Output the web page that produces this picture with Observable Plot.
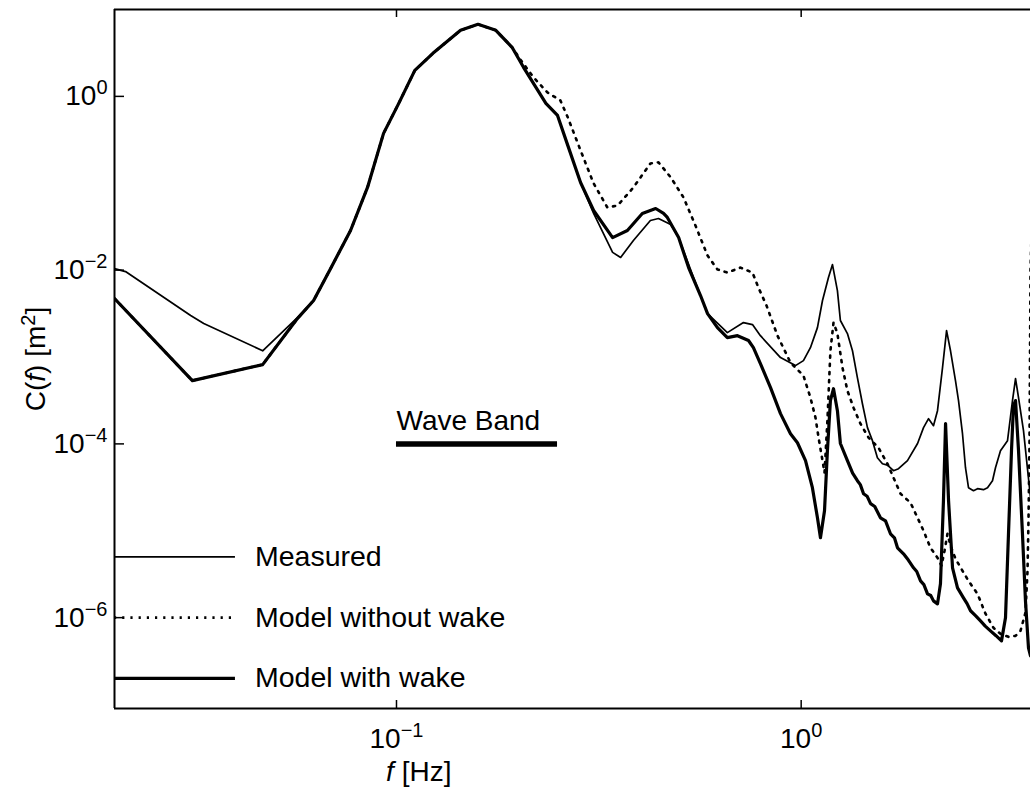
<!DOCTYPE html>
<html>
<head>
<meta charset="utf-8">
<script src="https://cdn.jsdelivr.net/npm/d3@7"></script>
<script src="https://cdn.jsdelivr.net/npm/@observablehq/plot@0.6"></script>
<style>
  html, body { margin: 0; padding: 0; background: #fff; }
  #chart { width: 1030px; height: 788px; overflow: hidden; }
  #chart svg { display: block; }
</style>
</head>
<body>
<div id="chart"></div>
<script>
// ---- data: [frequency f (Hz), spectral density C(f) (m^2)] ----
const measured = [
  [0.0201,0.0104],[0.0214,0.00963],[0.0310,0.00300],[0.0334,0.00243],[0.0467,0.00118],
  [0.0569,0.00284],[0.0624,0.00447],[0.0687,0.0104],[0.0770,0.0286],[0.0848,0.0895],
  [0.0929,0.375],[0.101,0.809],[0.111,1.99],[0.123,3.13],[0.144,5.76],[0.159,6.75],
  [0.176,5.76],[0.193,3.67],[0.206,2.16],[0.234,0.831],[0.250,0.604],[0.265,0.273],
  [0.285,0.102],[0.307,0.0449],[0.342,0.0160],[0.358,0.0140],[0.385,0.0219],[0.424,0.0373],
  [0.444,0.0393],[0.476,0.0335],[0.498,0.0237],[0.542,0.00822],[0.587,0.00316],[0.657,0.00191],
  [0.720,0.00249],[0.758,0.00236],[0.793,0.00176],[0.889,0.000984],[0.968,0.000796],
  [1.013,0.000909],[1.054,0.00128],[1.097,0.00218],[1.129,0.00447],[1.168,0.00822],
  [1.195,0.0116],[1.229,0.00582],[1.250,0.00263],[1.301,0.00186],[1.339,0.00118],
  [1.377,0.000579],[1.417,0.000290],[1.458,0.000154],[1.500,0.000109],[1.543,6.93e-5],
  [1.588,5.91e-5],[1.634,5.7e-5],[1.691,4.91e-5],[1.740,5.18e-5],[1.831,6.41e-5],
  [1.939,0.000101],[2.006,0.000154],[2.064,0.000195],[2.123,0.000162],[2.172,0.000241],
  [2.235,0.000755],[2.287,0.00201],[2.339,0.00118],[2.406,0.000535],[2.448,0.000315],
  [2.504,0.000131],[2.547,5.32e-5],[2.591,3.13e-5],[2.666,2.89e-5],[2.727,3.05e-5],
  [2.822,2.97e-5],[2.887,3.13e-5],[2.970,3.77e-5],[3.021,5.32e-5],[3.108,8.35e-5],
  [3.235,0.000109],[3.328,0.000315],[3.386,0.000564],[3.444,0.000341],[3.543,0.000142],
  [3.687,2.40e-5]
];

// low-frequency part shared by both model curves
const modelShared = [
  [0.0201,0.00471],[0.0313,0.000535],[0.0467,0.000818],[0.0569,0.00277],[0.0624,0.00447],
  [0.0687,0.0104],[0.0770,0.0286],[0.0848,0.0895],[0.0929,0.375],[0.101,0.809],
  [0.111,1.99],[0.123,3.13],[0.144,5.76],[0.159,6.75],[0.176,5.76],[0.193,3.67]
];

const withWakeRest = [
  [0.206,2.16],[0.234,0.831],[0.250,0.604],[0.265,0.273],[0.285,0.102],[0.307,0.0486],
  [0.342,0.0237],[0.372,0.0286],[0.405,0.0449],[0.437,0.0512],[0.457,0.0449],[0.467,0.0404],
  [0.498,0.0237],[0.527,0.0107],[0.564,0.00510],[0.587,0.00316],[0.621,0.00218],[0.657,0.00167],
  [0.696,0.00176],[0.741,0.00155],[0.762,0.00128],[0.793,0.000839],[0.840,0.000444],
  [0.889,0.000223],[0.941,0.000131],[0.979,0.000103],[1.025,6.41e-5],[1.066,3.13e-5],
  [1.097,1.41e-5],[1.116,8.31e-6],[1.142,1.70e-5],[1.161,8.35e-5],[1.181,0.000315],
  [1.202,0.000432],[1.229,0.000241],[1.250,0.000101],[1.301,6.41e-5],[1.340,4.6e-5],
  [1.377,3.77e-5],[1.400,3.4e-5],[1.426,2.67e-5],[1.455,2.5e-5],[1.484,2.05e-5],
  [1.520,1.9e-5],[1.570,1.41e-5],[1.616,1.30e-5],[1.662,9.23e-6],[1.700,8.3e-6],
  [1.730,6.37e-6],[1.790,5.43e-6],[1.840,4.6e-6],[1.895,3.75e-6],[1.930,3.4e-6],
  [1.972,2.65e-6],[2.010,2.4e-6],[2.052,1.88e-6],[2.090,1.8e-6],[2.123,1.56e-6],
  [2.172,1.44e-6],[2.209,2.45e-6],[2.247,2.22e-5],[2.274,0.000171],[2.313,2.22e-5],
  [2.366,3.75e-6],[2.434,2.20e-6],[2.518,1.69e-6],[2.570,1.45e-6],[2.621,1.20e-6],
  [2.700,1.05e-6],[2.774,9.19e-7],[2.850,8.0e-7],[2.936,7.05e-7],[3.030,6.2e-7],
  [3.126,5.40e-7],[3.198,9.95e-7],[3.253,9.23e-6],[3.309,8.35e-5],[3.347,0.000276],
  [3.386,0.000315],[3.444,8.35e-5],[3.522,9.23e-6],[3.583,1.56e-6],[3.645,4.49e-7],
  [3.687,3.63e-7]
];

const withoutWakeRest = [
  [0.203,2.60],[0.218,1.66],[0.236,1.11],[0.254,0.899],[0.265,0.573],[0.285,0.239],
  [0.307,0.0995],[0.332,0.0526],[0.352,0.0555],[0.385,0.0895],[0.424,0.169],[0.444,0.174],
  [0.476,0.117],[0.512,0.0686],[0.548,0.0326],[0.587,0.0147],[0.621,0.0102],[0.657,0.00938],
  [0.708,0.0107],[0.758,0.00938],[0.784,0.00630],[0.821,0.00391],[0.874,0.00176],
  [0.941,0.000862],[1.013,0.000611],[1.054,0.000341],[1.085,0.000200],[1.104,0.000118],
  [1.129,6.41e-5],[1.142,4.66e-5],[1.161,0.000185],[1.181,0.00118],[1.202,0.00249],
  [1.229,0.00186],[1.265,0.000755],[1.301,0.000410],[1.347,0.000261],[1.401,0.000171],
  [1.467,0.000118],[1.552,9.04e-5],[1.634,5.91e-5],[1.691,4.08e-5],[1.760,2.67e-5],
  [1.863,2.10e-5],[1.939,1.41e-5],[2.006,1.00e-5],[2.087,6.37e-6],[2.172,4.89e-6],
  [2.222,3.95e-6],[2.261,5.88e-6],[2.299,9.23e-6],[2.339,6.72e-6],[2.406,4.76e-6],
  [2.504,3.46e-6],[2.591,2.65e-6],[2.727,1.88e-6],[2.854,1.11e-6],[2.987,7.63e-7],
  [3.108,6.51e-7],[3.253,6.01e-7],[3.386,6.17e-7],[3.483,7.05e-7],[3.583,1.14e-6],
  [3.625,3.46e-6],[3.645,1.30e-5],[3.666,0.000101],[3.687,0.00989],[3.729,0.0633]
];

// ---- axes, ticks, annotations ----
const xDomain = [0.0201, 3.687];
const yDomain = [9e-8, 10];
const xTicks = [0.1, 1];
const yTicks = [1, 1e-2, 1e-4, 1e-6];
const xAxisLabel = "f [Hz]";
const yAxisLabel = "C(f) [m2]";
const xAxisLabelAt = [0.1135];
const legendItems = [
  {label: "Measured", c: 5e-6, kind: "measured"},
  {label: "Model without wake", c: 1e-6, kind: "without"},
  {label: "Model with wake", c: 2e-7, kind: "with"}
];
const legendLineF = [0.0201, 0.040];
const legendTextF = 0.0447;
const waveBand = [{f1: 0.1, f2: 0.25, c: 1e-4, label: "Wave Band", labelC: 1.85e-4}];

// ---- build ----
const rows = (arr) => arr.map(([f, c]) => ({f, c}));
const measuredRows = rows(measured);
const withWakeRows = rows(modelShared.concat(withWakeRest));
const withoutWakeRows = rows(modelShared.concat(withoutWakeRest));

const W = 1030, H = 788, mL = 114, mT = 9, mB = 80, mR = 0;
const innerW = W - mL - mR, innerH = H - mT - mB;
const FONT = "'Liberation Sans', Arial, Helvetica, sans-serif";
const sup = d => "10^" + Math.round(Math.log10(d));

const svg = Plot.plot({
  width: W, height: H,
  marginLeft: mL, marginTop: mT, marginBottom: mB, marginRight: mR,
  style: {fontFamily: FONT, fontSize: "28px", background: "white", color: "black"},
  x: {type: "log", domain: xDomain, axis: null},
  y: {type: "log", domain: yDomain, axis: null},
  marks: [
    // frame (left, top, bottom)
    Plot.ruleX([xDomain[0]], {x: d => d, stroke: "black", strokeWidth: 2}),
    Plot.ruleY(yDomain, {y: d => d, stroke: "black", strokeWidth: 2}),
    // inward ticks
    Plot.ruleX(xTicks, {x: d => d, insetTop: innerH - 8, stroke: "black", strokeWidth: 1.5}),
    Plot.ruleX(xTicks, {x: d => d, insetBottom: innerH - 8, stroke: "black", strokeWidth: 1.5}),
    Plot.ruleY(yTicks, {y: d => d, insetRight: innerW - 10, stroke: "black", strokeWidth: 1.5}),
    // tick labels
    Plot.text(xTicks, {x: d => d, frameAnchor: "bottom", textAnchor: "middle", lineAnchor: "top", dy: 20,
      text: sup, fontSize: 28, fill: "black"}),
    Plot.text(yTicks, {y: d => d, frameAnchor: "left", textAnchor: "end", lineAnchor: "middle", dx: -7,
      text: sup, fontSize: 28, fill: "black"}),
    // axis labels
    Plot.text(xAxisLabelAt, {x: d => d, frameAnchor: "bottom", textAnchor: "middle", lineAnchor: "middle",
      dy: 64, text: () => xAxisLabel, fontSize: 28, fill: "black"}),
    Plot.text([yAxisLabel], {frameAnchor: "left", textAnchor: "middle", lineAnchor: "middle",
      dx: -78, rotate: -90, text: d => d, fontSize: 28, fill: "black"}),
    // curves
    Plot.line(measuredRows, {x: "f", y: "c", stroke: "black", strokeWidth: 1.7,
      strokeLinejoin: "round", clip: true}),
    Plot.line(withoutWakeRows, {x: "f", y: "c", stroke: "black", strokeWidth: 2.6,
      strokeDasharray: "2.2,6", clip: true}),
    Plot.line(withWakeRows, {x: "f", y: "c", stroke: "black", strokeWidth: 3.2,
      strokeLinejoin: "round", clip: true}),
    // wave band annotation
    Plot.ruleY(waveBand, {y: "c", x1: "f1", x2: "f2", stroke: "black", strokeWidth: 5.5}),
    Plot.text(waveBand, {x: "f1", y: "labelC", text: "label", textAnchor: "start", lineAnchor: "middle",
      fontSize: 28, fill: "black"}),
    // legend
    Plot.ruleY(legendItems.filter(d => d.kind === "measured"),
      {y: "c", x1: () => legendLineF[0], x2: () => legendLineF[1], stroke: "black", strokeWidth: 1.7}),
    Plot.ruleY(legendItems.filter(d => d.kind === "without"),
      {y: "c", x1: () => legendLineF[0], x2: () => legendLineF[1], stroke: "black", strokeWidth: 2.6,
       strokeDasharray: "2.2,6"}),
    Plot.ruleY(legendItems.filter(d => d.kind === "with"),
      {y: "c", x1: () => legendLineF[0], x2: () => legendLineF[1], stroke: "black", strokeWidth: 3.2}),
    Plot.text(legendItems, {x: () => legendTextF, y: "c", text: "label", textAnchor: "start", lineAnchor: "middle",
      fontSize: 28.5, fill: "black"})
  ]
});

// ---- typography post-processing: superscripts and italics ----
const NS = "http://www.w3.org/2000/svg";
function span(parent, txt, attrs) {
  const s = document.createElementNS(NS, "tspan");
  for (const k in (attrs || {})) s.setAttribute(k, attrs[k]);
  s.textContent = txt;
  parent.appendChild(s);
  return s;
}
svg.querySelectorAll("text").forEach(t => {
  const s = t.textContent;
  const m = s.match(/^10\^(-?\d+)$/);
  if (m) {
    t.textContent = "";
    span(t, "10");
    span(t, m[1].replace("-", "\u2212"), {dy: "-11", "font-size": "20px"});
  } else if (s === yAxisLabel) {
    t.textContent = "";
    span(t, "C(");
    span(t, "f", {"font-style": "italic"});
    span(t, ") [m");
    span(t, "2", {dy: "-10", "font-size": "20px"});
    span(t, "]", {dy: "10"});
  } else if (s === xAxisLabel) {
    t.textContent = "";
    span(t, "f", {"font-style": "italic"});
    span(t, " [Hz]");
  }
});

document.getElementById("chart").appendChild(svg);
</script>
</body>
</html>
